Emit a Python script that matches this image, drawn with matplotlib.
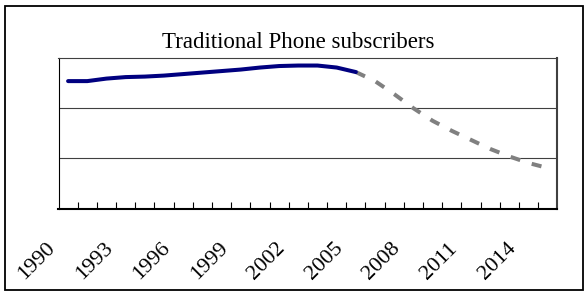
import matplotlib
matplotlib.use("Agg")
import matplotlib.pyplot as plt
import matplotlib.transforms as mtransforms
from matplotlib.patches import Rectangle

# Datos (escala sin etiquetas: líneas guía en 1 y 2)
years = list(range(1990, 2016))
actual_years = years[:16]          # 1990-2005, línea sólida
actual = [2.54, 2.54, 2.59, 2.62, 2.63, 2.65, 2.68, 2.71,
          2.74, 2.77, 2.81, 2.84, 2.85, 2.85, 2.81, 2.72]
forecast_years = years[15:]        # 2005-2015, proyección punteada
forecast = [2.72, 2.54, 2.28, 2.00, 1.75, 1.55, 1.37, 1.19, 1.04, 0.91, 0.81]
label_years = years[::3]
title = "Traditional Phone subscribers"

plt.rcParams["font.family"] = ["Liberation Serif", "DejaVu Serif"]

W, H = 584, 294
fig = plt.figure(figsize=(W / 100, H / 100), dpi=100)
ax = fig.add_axes([58.5 / W, (H - 208.7) / H, (557.3 - 58.5) / W, 150.7 / H])

# Marco exterior
fig.add_artist(Rectangle((5.3 / W, 4.2 / H), (582.6 - 5.3) / W, (289.3 - 5.2) / H,
                         transform=fig.transFigure, fill=False, ec="black", lw=1.3))

xa = [years.index(y) for y in actual_years]
xf = [years.index(y) for y in forecast_years]

ax.plot(xf, forecast, color="#808080", lw=2.9, dashes=(2.5, 3.0),
        dash_capstyle="butt", zorder=3)
ax.plot(xa, actual, color="#000080", lw=2.9, solid_capstyle="round",
        solid_joinstyle="round", zorder=4)

ax.set_xlim(-0.5, len(years) - 0.5)
ax.set_ylim(0, 3)

# Líneas guía horizontales
ax.set_yticks([1, 2])
ax.yaxis.grid(True, color="#404040", lw=0.8)
ax.tick_params(axis="y", left=False, labelleft=False)

# Marcas entre categorías
ax.set_xticks([i + 0.5 for i in range(len(years) - 1)])
ax.tick_params(axis="x", direction="in", length=5, width=0.8, labelbottom=False)

for side, lw, col in [("left", 0.8, "black"), ("top", 0.8, "#404040"),
                      ("right", 1.5, "#404040"), ("bottom", 1.5, "black")]:
    ax.spines[side].set_linewidth(lw)
    ax.spines[side].set_color(col)

# Etiquetas de años rotadas
base = mtransforms.blended_transform_factory(ax.transData, fig.transFigure)
trans = mtransforms.offset_copy(base, fig=fig, x=-44, y=0, units="dots")
for yr in label_years:
    ax.text(years.index(yr), 14 / H, str(yr), transform=trans, rotation=45,
            rotation_mode="anchor", ha="left", va="baseline", fontsize=16)

fig.text(298 / W, (H - 48) / H, title, ha="center", va="baseline", fontsize=16.5)

fig.savefig("out.png", dpi=100)
